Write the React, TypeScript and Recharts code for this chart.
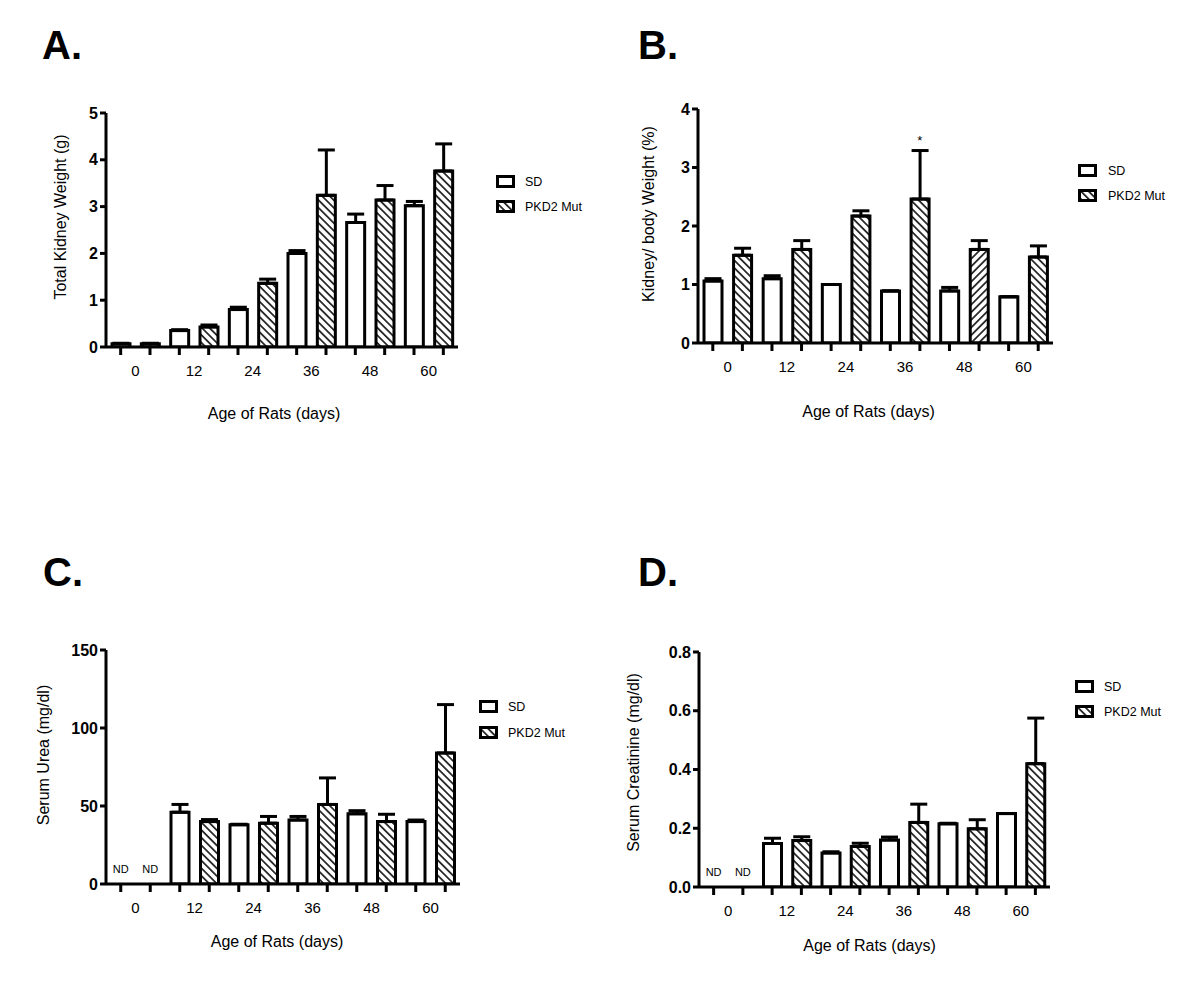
import React from "react";
import { Bar, BarChart, Cell, ErrorBar, Label, ReferenceDot, XAxis, YAxis } from "recharts";

const FONT = '"Liberation Sans", Arial, Helvetica, sans-serif';

const ageLabels = ["0", "12", "24", "36", "48", "60"];

// A. total kidney weight (g)
const sdKidney = [0.07, 0.35, 0.8, 2.0, 2.66, 3.02];
const sdKidneyErr = [0.01, 0.02, 0.05, 0.06, 0.18, 0.09];
const mutKidney = [0.07, 0.43, 1.36, 3.24, 3.14, 3.76];
const mutKidneyErr = [0.01, 0.04, 0.09, 0.97, 0.31, 0.58];
const kidneyTicks = [0, 1, 2, 3, 4, 5];

// B. kidney / body weight (%)
const sdRatio = [1.06, 1.1, 1.0, 0.89, 0.89, 0.79];
const sdRatioErr = [0.04, 0.05, 0, 0, 0.06, 0];
const mutRatio = [1.5, 1.6, 2.17, 2.46, 1.6, 1.47];
const mutRatioErr = [0.12, 0.15, 0.09, 0.83, 0.15, 0.19];
const ratioTicks = [0, 1, 2, 3, 4];

// C. serum urea (mg/dl), null = not determined
const sdUrea = [null, 46, 38, 41, 45, 40];
const sdUreaErr = [0, 5, 0.3, 2.3, 2, 1];
const mutUrea = [null, 40, 39, 51, 40, 84];
const mutUreaErr = [0, 1.3, 4.3, 17, 4.7, 31];
const ureaTicks = [0, 50, 100, 150];

// D. serum creatinine (mg/dl)
const sdCreat = [null, 0.148, 0.116, 0.16, 0.215, 0.25];
const sdCreatErr = [0, 0.018, 0.004, 0.01, 0.002, 0];
const mutCreat = [null, 0.158, 0.138, 0.22, 0.198, 0.42];
const mutCreatErr = [0, 0.013, 0.011, 0.062, 0.031, 0.155];
const creatTicks = [0, 0.2, 0.4, 0.6, 0.8];

type Row = { key: string; value: number | null; range: [number, number]; grp: "sd" | "mut" };

function buildRows(sd: (number | null)[], sdErr: number[], mut: (number | null)[], mutErr: number[]) {
  const rows: Row[] = [];
  sd.forEach((v, i) => {
    rows.push({ key: `sd${i}`, value: v, range: [0, sdErr[i]], grp: "sd" });
    rows.push({ key: `mut${i}`, value: mut[i], range: [0, mutErr[i]], grp: "mut" });
  });
  return rows;
}

const axisStyle = { stroke: "#000", strokeWidth: 3 };

function hatchPattern(id: string, angle: number) {
  return (
    <pattern id={id} patternUnits="userSpaceOnUse" width={5.4} height={5.4} patternTransform={`rotate(${angle})`}>
      <rect width={5.4} height={5.4} fill="#fff" />
      <line x1={2.7} y1={0} x2={2.7} y2={5.4} stroke="#000" strokeWidth={1.5} />
    </pattern>
  );
}

// x tick: short mark under every bar, age label between each SD / PKD2 pair
function AgeTick(props: any) {
  const { x, index, band, axisY } = props;
  return (
    <g>
      <rect x={x - 1.5} y={axisY} width={3} height={8} fill="#000" />
      {index % 2 === 0 && (
        <text x={x + band / 2} y={axisY + 29} textAnchor="middle" fontSize={15} fill="#000" fontFamily={FONT}>
          {ageLabels[index / 2]}
        </text>
      )}
    </g>
  );
}

type PanelProps = {
  id: string;
  cx: number;
  cy: number;
  plot: { l: number; t: number; r: number; b: number };
  sd: (number | null)[];
  sdErr: number[];
  mut: (number | null)[];
  mutErr: number[];
  ticks: number[];
  fmt: (v: number) => string;
  yTitle: string;
  yTitleOff: number;
  yTitleDy: number;
  xTitleDx: number;
  xTitleDy: number;
  flip?: number[];
  star?: number;
};

function Panel(p: PanelProps) {
  const W = 600;
  const H = 495;
  const YW = 60;
  const XH = 70;
  const rows = buildRows(p.sd, p.sdErr, p.mut, p.mutErr);
  const band = (p.plot.r - p.plot.l) / rows.length;
  const axisY = p.plot.b - p.cy;
  const margin = {
    top: p.plot.t - p.cy,
    left: p.plot.l - p.cx - YW,
    right: p.cx + W - p.plot.r,
    bottom: p.cy + H - p.plot.b - XH,
  };
  const hatch = `hatch-${p.id}`;
  const hatchFlip = `hatch-${p.id}-flip`;
  const starRow = p.star !== undefined ? rows[p.star] : null;

  return (
    <div style={{ position: "absolute", left: p.cx, top: p.cy, width: W, height: H }}>
      <BarChart width={W} height={H} data={rows} margin={margin}>
        <defs>
          {hatchPattern(hatch, -45)}
          {hatchPattern(hatchFlip, 45)}
        </defs>
        <XAxis
          dataKey="key"
          type="category"
          interval={0}
          height={XH}
          tickSize={7}
          axisLine={axisStyle}
          tickLine={false}
          tick={(t: any) => <AgeTick {...t} band={band} axisY={axisY} />}
        >
          <Label
            content={(lp: any) => {
              const vb = lp.viewBox;
              return (
                <text
                  x={vb.x + vb.width / 2 + p.xTitleDx}
                  y={vb.y + p.xTitleDy}
                  textAnchor="middle"
                  dominantBaseline="central"
                  fontSize={16}
                  fill="#000"
                  fontFamily={FONT}
                >
                  Age of Rats (days)
                </text>
              );
            }}
          />
        </XAxis>
        <YAxis
          type="number"
          domain={[p.ticks[0], p.ticks[p.ticks.length - 1]]}
          ticks={p.ticks}
          width={YW}
          tickSize={6}
          axisLine={axisStyle}
          tickLine={axisStyle}
          tickFormatter={p.fmt}
          tick={{ fill: "#000", fontSize: 16, fontWeight: "bold", fontFamily: FONT }}
          allowDataOverflow
        >
          <Label
            content={(lp: any) => {
              const vb = lp.viewBox;
              const x = vb.x + vb.width - p.yTitleOff;
              const y = vb.y + vb.height / 2 + p.yTitleDy;
              return (
                <text
                  x={x}
                  y={y}
                  transform={`rotate(-90 ${x} ${y})`}
                  textAnchor="middle"
                  dominantBaseline="central"
                  fontSize={16}
                  fill="#000"
                  fontFamily={FONT}
                >
                  {p.yTitle}
                </text>
              );
            }}
          />
        </YAxis>
        <Bar dataKey="value" barSize={18} stroke="#000" strokeWidth={3} isAnimationActive={false}>
          {rows.map((r, i) => (
            <Cell
              key={r.key}
              fill={r.grp === "sd" ? "#fff" : `url(#${p.flip && p.flip.includes(i) ? hatchFlip : hatch})`}
              stroke="#000"
              strokeWidth={3}
            />
          ))}
          <ErrorBar dataKey="range" width={8.5} strokeWidth={3} stroke="#000" direction="y" isAnimationActive={false} />
        </Bar>
        {rows.map((r) =>
          r.value === null ? (
            <ReferenceDot
              key={`nd-${r.key}`}
              x={r.key}
              y={0}
              r={0}
              fill="none"
              stroke="none"
              label={{ value: "ND", position: "top", offset: 11, fontSize: 11, fill: "#000", fontFamily: FONT }}
            />
          ) : null
        )}
        {starRow && starRow.value !== null && (
          <ReferenceDot
            x={starRow.key}
            y={starRow.value + starRow.range[1]}
            r={0}
            fill="none"
            stroke="none"
            label={{ value: "*", position: "top", offset: 6, fontSize: 13, fill: "#000", fontFamily: FONT }}
          />
        )}
      </BarChart>
    </div>
  );
}

function LegendKey({ x, y, textX, label, fill }: { x: number; y: number; textX: number; label: string; fill: string }) {
  return (
    <g>
      <rect x={x + 1.5} y={y + 1.5} width={16} height={10} fill={fill} stroke="#000" strokeWidth={3} />
      <text x={textX} y={y + 7} dominantBaseline="central" fontSize={12.5} fill="#000" fontFamily={FONT}>
        {label}
      </text>
    </g>
  );
}

const legends = [
  { x: 496, y1: 175, y2: 200, tx: 525 },
  { x: 1078, y1: 164, y2: 189, tx: 1108 },
  { x: 479, y1: 700, y2: 726, tx: 508 },
  { x: 1075, y1: 680, y2: 705, tx: 1104 },
];

const letters = [
  { t: "A.", x: 42, y: 59 },
  { t: "B.", x: 638, y: 59 },
  { t: "C.", x: 43, y: 586 },
  { t: "D.", x: 638, y: 586 },
];

export default function App() {
  return (
    <div
      style={{
        position: "absolute",
        left: 0,
        top: 0,
        width: 1200,
        height: 990,
        background: "#fff",
        fontFamily: FONT,
      }}
    >
      <Panel
        id="A"
        cx={0}
        cy={0}
        plot={{ l: 106, t: 113, r: 458, b: 347 }}
        sd={sdKidney}
        sdErr={sdKidneyErr}
        mut={mutKidney}
        mutErr={mutKidneyErr}
        ticks={kidneyTicks}
        fmt={(v) => String(v)}
        yTitle="Total Kidney Weight (g)"
        yTitleOff={46}
        yTitleDy={-13}
        xTitleDx={-8}
        xTitleDy={66}
      />
      <Panel
        id="B"
        cx={600}
        cy={0}
        plot={{ l: 698, t: 109, r: 1053, b: 343 }}
        sd={sdRatio}
        sdErr={sdRatioErr}
        mut={mutRatio}
        mutErr={mutRatioErr}
        ticks={ratioTicks}
        fmt={(v) => String(v)}
        yTitle="Kidney/ body Weight (%)"
        yTitleOff={50}
        yTitleDy={-12}
        xTitleDx={-7}
        xTitleDy={68}
        flip={[9]}
        star={7}
      />
      <Panel
        id="C"
        cx={0}
        cy={495}
        plot={{ l: 106, t: 650, r: 460, b: 884 }}
        sd={sdUrea}
        sdErr={sdUreaErr}
        mut={mutUrea}
        mutErr={mutUreaErr}
        ticks={ureaTicks}
        fmt={(v) => String(v)}
        yTitle="Serum Urea (mg/dl)"
        yTitleOff={63}
        yTitleDy={-12}
        xTitleDx={-6}
        xTitleDy={57}
      />
      <Panel
        id="D"
        cx={600}
        cy={495}
        plot={{ l: 699, t: 652, r: 1050, b: 887 }}
        sd={sdCreat}
        sdErr={sdCreatErr}
        mut={mutCreat}
        mutErr={mutCreatErr}
        ticks={creatTicks}
        fmt={(v) => v.toFixed(1)}
        yTitle="Serum Creatinine (mg/dl)"
        yTitleOff={66}
        yTitleDy={-7}
        xTitleDx={-5}
        xTitleDy={58}
      />
      <svg width={1200} height={990} style={{ position: "absolute", left: 0, top: 0, pointerEvents: "none" }}>
        <defs>{hatchPattern("hatch-legend", -45)}</defs>
        {letters.map((l) => (
          <text key={l.t} x={l.x} y={l.y} fontSize={40} fontWeight="bold" fill="#000" fontFamily={FONT}>
            {l.t}
          </text>
        ))}
        {legends.map((g, i) => (
          <g key={i}>
            <LegendKey x={g.x} y={g.y1} textX={g.tx} label="SD" fill="#fff" />
            <LegendKey x={g.x} y={g.y2} textX={g.tx} label="PKD2 Mut" fill="url(#hatch-legend)" />
          </g>
        ))}
      </svg>
    </div>
  );
}
